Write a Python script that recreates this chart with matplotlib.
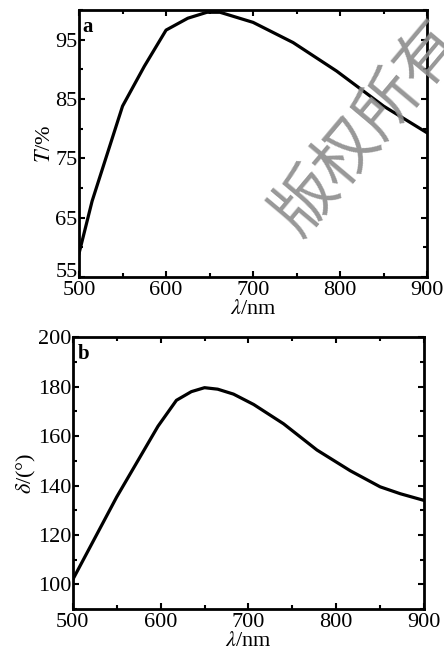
import numpy as np
import matplotlib.pyplot as plt
import matplotlib.transforms as mtransforms
from matplotlib.ticker import MultipleLocator

# panel a: transmittance
wl_a = [500, 515, 550, 575, 600, 625, 647, 662, 700, 746, 796, 850, 900]
T_a = [59.0, 67.8, 83.8, 90.5, 96.6, 98.6, 99.6, 99.6, 97.9, 94.5, 89.7, 83.8, 79.3]

# panel b: phase retardation
wl_b = [500, 550, 597, 618, 635, 650, 665, 683, 706, 740, 778, 816, 850, 873, 900]
d_b = [102, 135.4, 164, 174.5, 178, 179.6, 179, 177, 172.8, 165, 154.4, 146, 139.5, 136.7, 134]

plt.rcParams['font.family'] = ['Liberation Serif', 'DejaVu Serif']
plt.rcParams['mathtext.fontset'] = 'stix'

fig = plt.figure(figsize=(4.44, 6.6), dpi=100)
ax1 = fig.add_axes([0.178, 0.580, 0.784, 0.405])
ax2 = fig.add_axes([0.164, 0.077, 0.791, 0.412])

for ax in (ax1, ax2):
    for s in ax.spines.values():
        s.set_linewidth(2.0)
    ax.tick_params(which='both', direction='in', top=True, right=True,
                   width=1.5, labelsize=16, pad=1)
    ax.tick_params(axis='x', which='both', pad=3)
    ax.tick_params(which='major', length=4)
    ax.tick_params(which='minor', length=3)
    ax.set_xlim(500, 900)
    ax.xaxis.set_major_locator(MultipleLocator(100))
    ax.xaxis.set_minor_locator(MultipleLocator(50))
    ax.set_xlabel(r'$\lambda$/nm', fontsize=16, labelpad=0)

ax1.plot(wl_a, T_a, color='black', lw=2.3)
ax1.set_ylim(55, 100)
ax1.set_yticks([55, 65, 75, 85, 95])
ax1.yaxis.set_minor_locator(MultipleLocator(5))
ax1.set_ylabel(r'$T$/%', fontsize=16, labelpad=0)
ax1.text(0.01, 0.975, 'a', transform=ax1.transAxes, fontsize=15,
         fontweight='bold', va='top', ha='left')

# lift the lowest y label a little so it sits clear of "500"
lab55 = ax1.get_yticklabels()[0]
lab55.set_transform(lab55.get_transform() +
                    mtransforms.ScaledTranslation(0, 5 / 72, fig.dpi_scale_trans))

ax2.plot(wl_b, d_b, color='black', lw=2.3)
ax2.set_ylim(90, 200)
ax2.set_yticks([100, 120, 140, 160, 180, 200])
ax2.yaxis.set_minor_locator(MultipleLocator(10))
ax2.set_ylabel(r'$\delta$/(°)', fontsize=16, labelpad=0)
ax2.text(0.015, 0.975, 'b', transform=ax2.transAxes, fontsize=15,
         fontweight='bold', va='top', ha='left')

# watermark
fig.text(0.83, 0.805, '版权所有', fontsize=46, color='#8c8c8c', rotation=50,
         ha='center', va='center', family=['Noto Sans CJK SC', 'DejaVu Sans'],
         alpha=0.9)

fig.savefig('out.png', dpi=100)
